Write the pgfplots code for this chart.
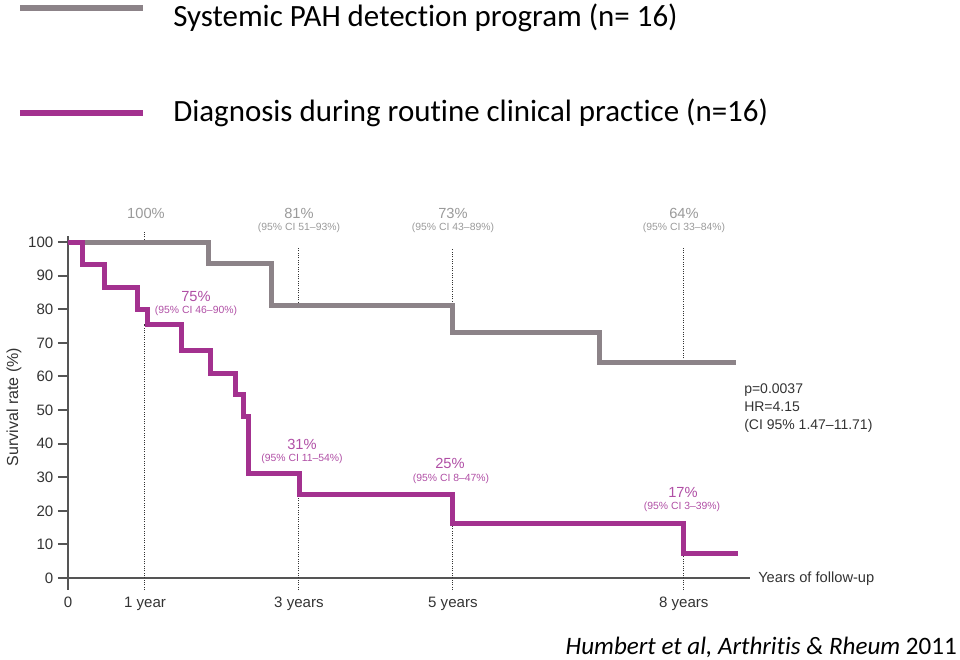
\documentclass[border=0pt]{standalone}
\usepackage{pgfplots}
\pgfplotsset{compat=1.18}
\usepackage{fontspec}
\setmainfont{Liberation Sans}
\newfontfamily\calfont[Ligatures=NoCommon]{Carlito}
\definecolor{kmgrey}{HTML}{8C8388}
\definecolor{kmmag}{HTML}{A3318F}
\definecolor{lblgrey}{HTML}{9A9A9A}
\definecolor{lblmag}{HTML}{B04FA5}
\definecolor{axgrey}{HTML}{555555}
\definecolor{txt}{HTML}{333333}
\begin{document}
\begin{tikzpicture}
\useasboundingbox (0,0) rectangle (720pt,-495pt);
\begin{axis}[
  at={(51pt,-433.5pt)}, anchor=south west,
  scale only axis, width=511.5pt, height=256.5pt,
  xmin=0, xmax=8.86, ymin=0, ymax=101.8,
  axis x line=bottom, axis y line=left,
  axis line style={axgrey, line width=1.5pt, -},
  ytick={0,10,...,100},
  xtick={0,1,3,5,8}, xticklabels={0,1 year,3 years,5 years,8 years},
  tick align=outside, major tick length=7.5pt,
  y tick style={axgrey, line width=1.5pt},
  x tick style={draw=none},
  ticklabel style={font=\fontsize{11.3}{13}\selectfont, text=txt},
  xticklabel style={yshift=-3.5pt},
  /pgf/number format/assume math mode=true,
  clip=false,
]
% tick at 0 and dotted reference lines
\addplot[axgrey, line width=1.5pt] coordinates {(0,0) (0,-3.6)};
\addplot[txt, densely dotted, line width=0.75pt] coordinates {(1,-3.6) (1,75.6)};
\addplot[txt, densely dotted, line width=0.75pt] coordinates {(1,100) (1,103)};
\addplot[txt, densely dotted, line width=0.75pt] coordinates {(3,-3.6) (3,25)};
\addplot[txt, densely dotted, line width=0.75pt] coordinates {(3,81.25) (3,98.2)};
\addplot[txt, densely dotted, line width=0.75pt] coordinates {(5,-3.6) (5,16.2)};
\addplot[txt, densely dotted, line width=0.75pt] coordinates {(5,73.2) (5,98.2)};
\addplot[txt, densely dotted, line width=0.75pt] coordinates {(8,-3.6) (8,7.2)};
\addplot[txt, densely dotted, line width=0.75pt] coordinates {(8,64) (8,98.2)};
% Kaplan-Meier curves
\addplot[kmgrey, line width=3.75pt, const plot mark left, line join=miter] coordinates {
  (0,100) (1.83,93.75) (2.65,81.25) (5.0,73.2) (6.9,64) (8.68,64)};
\addplot[kmmag, line width=3.75pt, const plot mark left, line join=miter] coordinates {
  (0,100) (0.19,93.2) (0.48,86.5) (0.9,80) (1.03,75.6) (1.47,67.6) (1.85,61)
  (2.18,54.5) (2.28,48.2) (2.35,31) (3.01,25) (5.0,16.2) (8.0,7.2) (8.71,7.2)};
\end{axis}
\begin{scope}[x=0.75pt,y=-0.75pt]
  % legend
  \draw[kmgrey, line width=4.5pt] (20,8) -- (143,8);
  \draw[kmmag, line width=5pt] (20,113) -- (143,113);
  \node[anchor=base west, inner sep=0pt, text=black, font=\calfont\fontsize{23.2}{28}\selectfont] at (173,27) {Systemic PAH detection program (n= 16)};
  \node[anchor=base west, inner sep=0pt, text=black, font=\calfont\fontsize{23.2}{28}\selectfont] at (173,121) {Diagnosis during routine clinical practice (n=16)};
  % y label
  \node[rotate=90, text=txt, font=\fontsize{12}{14}\selectfont] at (14,407) {Survival rate (\%)};
  \node[anchor=west, text=txt, font=\fontsize{11}{13}\selectfont, inner sep=0pt] at (758,579) {Years of follow-up};
  % grey labels
  \begin{scope}[every node/.style={text=lblgrey, inner sep=0pt}]
    \node[font=\fontsize{11}{13}\selectfont] at (146,213) {100\%};
    \node[font=\fontsize{11}{13}\selectfont] at (299,213) {81\%};
    \node[font=\fontsize{7.8}{9}\selectfont] at (299,228) {(95\% CI 51–93\%)};
    \node[font=\fontsize{11}{13}\selectfont] at (453,213) {73\%};
    \node[font=\fontsize{7.8}{9}\selectfont] at (453,228) {(95\% CI 43–89\%)};
    \node[font=\fontsize{11}{13}\selectfont] at (684,213) {64\%};
    \node[font=\fontsize{7.8}{9}\selectfont] at (684,228) {(95\% CI 33–84\%)};
  \end{scope}
  % magenta labels
  \begin{scope}[every node/.style={text=lblmag, inner sep=0pt}]
    \node[font=\fontsize{11}{13}\selectfont] at (196,296) {75\%};
    \node[font=\fontsize{7.8}{9}\selectfont] at (196,311) {(95\% CI 46–90\%)};
    \node[font=\fontsize{11}{13}\selectfont] at (302,444) {31\%};
    \node[font=\fontsize{7.8}{9}\selectfont] at (302,459) {(95\% CI 11–54\%)};
    \node[font=\fontsize{11}{13}\selectfont] at (450,463) {25\%};
    \node[font=\fontsize{7.8}{9}\selectfont] at (451,479) {(95\% CI 8–47\%)};
    \node[font=\fontsize{11}{13}\selectfont] at (683,492) {17\%};
    \node[font=\fontsize{7.8}{9}\selectfont] at (682,507) {(95\% CI 3–39\%)};
  \end{scope}
  % statistics
  \node[anchor=north west, align=left, text=txt, inner sep=0pt, font=\fontsize{10.5}{13.5}\selectfont] at (744,383) {p=0.0037\\HR=4.15\\(CI 95\% 1.47–11.71)};
  % citation
  \node[anchor=base east, inner sep=0pt, text=black, font=\calfont\fontsize{18.8}{22}\selectfont] at (957,654) {\itshape Humbert et al, Arthritis \& Rheum \upshape 2011};
\end{scope}
\end{tikzpicture}
\end{document}
